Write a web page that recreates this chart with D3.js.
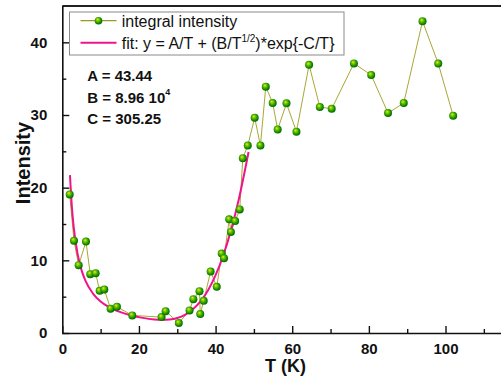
<!DOCTYPE html>
<html><head><meta charset="utf-8">
<script src="https://cdn.jsdelivr.net/npm/d3@7"></script>
<style>
body{margin:0;background:#fff}
svg{display:block}
text{font-family:Arial,"Liberation Sans",sans-serif}
</style>
</head><body>
<svg id="c" width="501" height="378"></svg>
<script>
// measured data: integral intensity vs temperature
const temperature=[1.93,3.05,4.27,6.18,7.3,8.7,9.75,10.96,12.6,14.26,18.26,25.9,26.96,30.4,33.2,34.2,35.8,36.0,36.9,38.7,40.3,41.6,42.2,43.55,44.0,45.1,46.3,47.1,48.4,50.2,51.7,53.1,54.9,56.2,58.5,61.1,64.4,67.2,70.3,76.1,80.6,85.0,89.1,94.0,98.1,102.0];
const intensity=[19.07,12.7,9.33,12.58,8.09,8.23,5.8,5.99,3.34,3.61,2.42,2.19,3.0,1.37,3.1,4.66,5.76,2.6,4.43,8.46,6.35,10.93,10.29,15.64,13.9,15.4,17.0,24.05,25.8,29.63,25.8,33.9,31.65,28.0,31.6,27.7,36.9,31.1,30.86,37.1,35.5,30.27,31.65,42.9,37.08,29.9];
// fit curve
const fitT=[2,2.5,3,4,5,6,8,10,12,15,18,21,24,26,28,30,32,34,36,38,40,42,44,46,48,48.6];
const fitI=[21.72,17.38,14.48,10.86,8.69,7.24,5.43,4.34,3.62,2.9,2.41,2.08,1.87,1.81,1.86,2.07,2.5,3.22,4.31,5.85,7.96,10.67,14.09,18.26,23.29,24.9];
const xTicks=[0,20,40,60,80,100];
const xMinor=[10,30,50,70,90,110];
const yTicks=[0,10,20,30,40];
const yMinor=[5,15,25,35];
const legendLabels=["integral intensity","fit: y = A/T + (B/T","1/2",")*exp{-C/T}"];
const params=[["A = 43.44",""],["B = 8.96 10","4"],["C = 305.25",""]];
const xTitle="T (K)", yTitle="Intensity";

const svg=d3.select("#c");
const x=d3.scaleLinear().domain([0,115]).range([62.3,503]);
const y=d3.scaleLinear().domain([0,45]).range([333,6]);

const defs=svg.append("defs");
const g=defs.append("radialGradient").attr("id","ball").attr("cx","45%").attr("cy","45%").attr("r","60%").attr("fx","38%").attr("fy","32%");
g.append("stop").attr("offset","0%").attr("stop-color","#e8f020");
g.append("stop").attr("offset","35%").attr("stop-color","#70c000");
g.append("stop").attr("offset","75%").attr("stop-color","#0a8a00");
g.append("stop").attr("offset","100%").attr("stop-color","#005800");

// frame
svg.append("line").attr("x1",62.3).attr("x2",501).attr("y1",6).attr("y2",6).attr("stroke","#222").attr("stroke-width",2);

// axes with inward ticks
const xAx=svg.append("g").attr("transform","translate(0,333)");
xAx.call(d3.axisBottom(x).tickValues(xTicks).tickSize(-7).tickPadding(10).tickFormat(d3.format("d")));
xAx.selectAll(".tick text").attr("dy","0.71em").attr("y",10);
const xAm=svg.append("g").attr("transform","translate(0,333)");
xAm.call(d3.axisBottom(x).tickValues(xMinor).tickSize(-4).tickFormat(""));
xAm.select(".domain").remove();

const yAx=svg.append("g").attr("transform","translate(62.3,0)");
yAx.call(d3.axisLeft(y).tickValues(yTicks).tickSize(-7).tickPadding(15).tickFormat(d3.format("d")));
const yAm=svg.append("g").attr("transform","translate(62.3,0)");
yAm.call(d3.axisLeft(y).tickValues(yMinor).tickSize(-4).tickFormat(""));
yAm.select(".domain").remove();

svg.selectAll(".domain").attr("stroke","#111").attr("stroke-width",1.6);
svg.selectAll(".tick line").attr("stroke","#111").attr("stroke-width",1.4);
svg.selectAll(".tick text").attr("font-size",15).attr("font-weight","bold").attr("fill","#111").attr("font-family",'Arial,"Liberation Sans",sans-serif');
xAx.selectAll(".domain").attr("d","M62.3,0.5H501");
yAx.selectAll(".domain").attr("d","M0.5,6V333");

// axis titles
svg.append("text").attr("x",285.5).attr("y",372).attr("text-anchor","middle").attr("font-size",18).attr("font-weight","bold").attr("fill","#111").text(xTitle);
svg.append("text").attr("transform","translate(30,163) rotate(-90)").attr("text-anchor","middle").attr("font-size",20).attr("font-weight","bold").attr("fill","#111").text(yTitle);

// data line
const pts=temperature.map((t,i)=>[t,intensity[i]]);
svg.append("path").attr("d",d3.line().x(d=>x(d[0])).y(d=>y(d[1]))(pts)).attr("fill","none").attr("stroke","#a8a838").attr("stroke-width",1);

// fit curve
const fpts=fitT.map((t,i)=>[t,fitI[i]]);
svg.append("path").attr("d",d3.line().curve(d3.curveMonotoneX).x(d=>x(d[0])).y(d=>y(d[1]))(fpts)).attr("fill","none").attr("stroke","#f0148a").attr("stroke-width",2);

// markers
svg.append("g").selectAll("circle").data(pts).join("circle").attr("cx",d=>x(d[0])).attr("cy",d=>y(d[1])).attr("r",4).attr("fill","url(#ball)");

// legend
svg.append("rect").attr("x",69.5).attr("y",12).attr("width",274.5).attr("height",43).attr("fill","#fff").attr("stroke","#8a8a8a").attr("stroke-width",1);
svg.append("line").attr("x1",80.5).attr("x2",116.5).attr("y1",20.7).attr("y2",20.7).attr("stroke","#9a9a20").attr("stroke-width",1.2);
svg.append("circle").attr("cx",98.5).attr("cy",20.7).attr("r",3.8).attr("fill","url(#ball)");
svg.append("line").attr("x1",80.5).attr("x2",116.5).attr("y1",42.7).attr("y2",42.7).attr("stroke","#f0148a").attr("stroke-width",2);
svg.append("text").attr("x",121.7).attr("y",26.5).attr("font-size",16).attr("fill","#111").text(legendLabels[0]);
const lt=svg.append("text").attr("x",121.7).attr("y",48.5).attr("font-size",16).attr("fill","#111");
lt.append("tspan").text(legendLabels[1]);
lt.append("tspan").attr("font-size",10).attr("dy",-7).text(legendLabels[2]);
lt.append("tspan").attr("dy",7).text(legendLabels[3]);

// parameters
params.forEach((p,i)=>{
  const t=svg.append("text").attr("x",87.3).attr("y",81+i*21.5).attr("font-size",15).attr("font-weight","bold").attr("fill","#111");
  t.append("tspan").text(p[0]);
  if(p[1]){t.append("tspan").attr("font-size",9).attr("dy",-8).text(p[1]);}
});
</script>
</body></html>
